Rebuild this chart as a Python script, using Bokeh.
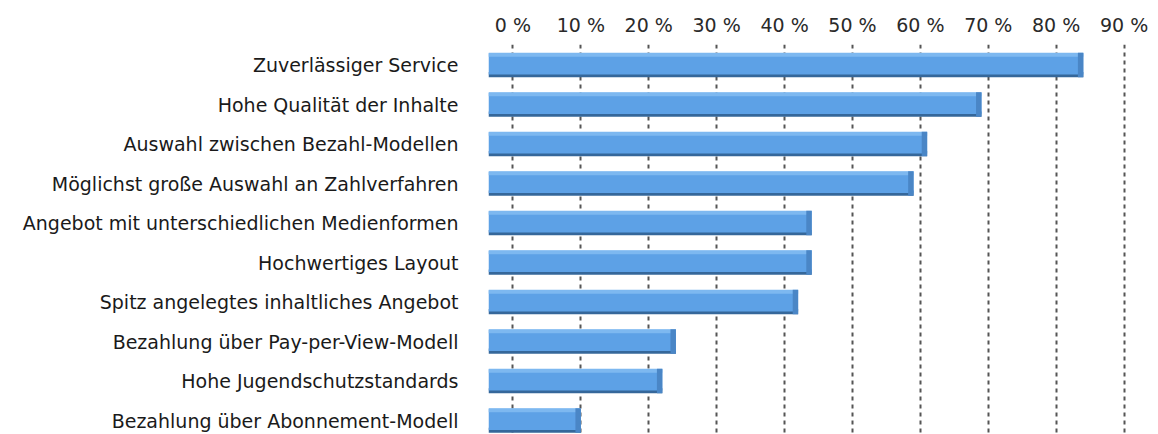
from bokeh.plotting import figure
from bokeh.models import Range1d, FixedTicker, ColumnDataSource
from bokeh.embed import file_html
from bokeh.resources import INLINE

# ---- data ----
categories = [
    "Zuverlässiger Service",
    "Hohe Qualität der Inhalte",
    "Auswahl zwischen Bezahl-Modellen",
    "Möglichst große Auswahl an Zahlverfahren",
    "Angebot mit unterschiedlichen Medienformen",
    "Hochwertiges Layout",
    "Spitz angelegtes inhaltliches Angebot",
    "Bezahlung über Pay-per-View-Modell",
    "Hohe Jugendschutzstandards",
    "Bezahlung über Abonnement-Modell",
]
values = [84, 69, 61, 59, 44, 44, 42, 24, 22, 10]
tick_values = [0, 10, 20, 30, 40, 50, 60, 70, 80, 90]
tick_labels = ["0 %", "10 %", "20 %", "30 %", "40 %", "50 %", "60 %", "70 %", "80 %", "90 %"]

# ---- style constants ----
DEPTH = -3.6          # 3D depth: bar bodies start slightly left of the 0 % wall
BAR_H = 0.62
FONT = "DejaVu Sans"

rows = list(range(len(categories)))
src = ColumnDataSource(dict(
    y=rows,
    y_bottom=[r + 0.245 for r in rows],
    y_face=[r - 0.03 for r in rows],
    y_top=[r - 0.26 for r in rows],
    left=[DEPTH] * len(rows),
    right=values,
    side_left=[v - 0.8 for v in values],
))

p = figure(
    width=1158, height=434,
    x_range=Range1d(DEPTH, 95.07),
    y_range=Range1d(9.354, -0.519),
    x_axis_location="above",
    output_backend="svg", toolbar_location=None,
    min_border_left=488, min_border_right=0,
    min_border_top=44, min_border_bottom=0,
)
p.outline_line_color = None
p.background_fill_color = "white"
p.border_fill_color = "white"

# bottom (dark) face
p.hbar(y="y_bottom", height=0.13, left="left", right="right", source=src,
       fill_color="#35679a", line_color=None)
# main face
p.hbar(y="y_face", height=0.54, left="left", right="right", source=src,
       fill_color="#5da1e6", line_color=None)
# top highlight
p.hbar(y="y_top", height=0.1, left="left", right="right", source=src,
       fill_color="#7db8f0", line_color=None)
# right side face
p.hbar(y="y", height=BAR_H, left="side_left", right="right", source=src,
       fill_color="#4a86c6", line_color=None)

# x axis (top)
xa = p.xaxis[0]
xa.ticker = FixedTicker(ticks=tick_values)
xa.major_label_overrides = {t: l for t, l in zip(tick_values, tick_labels)}
xa.major_label_text_font = FONT
xa.major_label_text_font_size = "19px"
xa.major_label_text_color = "#2a2a2a"
xa.major_label_standoff = 3
xa.axis_line_color = None
xa.major_tick_line_color = None
xa.minor_tick_line_color = None

# y axis (categories)
ya = p.yaxis[0]
ya.ticker = FixedTicker(ticks=rows)
ya.major_label_overrides = {r: c for r, c in zip(rows, categories)}
ya.major_label_text_font = FONT
ya.major_label_text_font_size = "19px"
ya.major_label_text_color = "#1a1a1a"
ya.major_label_standoff = 24
ya.axis_line_color = None
ya.major_tick_line_color = None
ya.minor_tick_line_color = None

p.xgrid.ticker = FixedTicker(ticks=tick_values)
p.xgrid.grid_line_color = "#555555"
p.xgrid.grid_line_dash = "4 4"
p.xgrid.grid_line_width = 2
p.ygrid.grid_line_color = None

open("out.html", "w").write(file_html(p, INLINE))
